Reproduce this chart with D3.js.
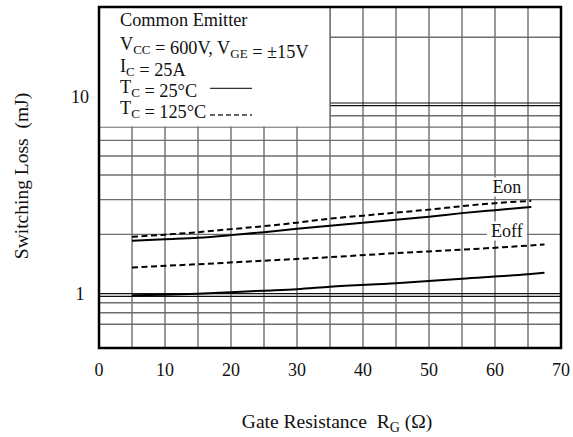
<!DOCTYPE html>
<html>
<head>
<meta charset="utf-8">
<script src="https://cdn.jsdelivr.net/npm/d3@7"></script>
<style>
  html, body { margin: 0; padding: 0; background: #fff; }
  svg { display: block; }
  text { font-family: "Liberation Serif", "Times New Roman", serif; fill: #111; white-space: pre; }
</style>
</head>
<body>
<svg id="chart" width="573" height="437"></svg>
<script>
// ---- data ----
const xTicks = [0, 10, 20, 30, 40, 50, 60, 70];
const yTickLabels = [1, 10];
const yGridValues = [0.7, 0.8, 0.9, 1, 2, 3, 4, 5, 6, 7, 8, 9, 20];
const doubledLines = [1, 9];

const rgEon = [5, 10, 15, 20, 25, 30, 35, 40, 45, 50, 55, 60, 65.5];
const eon25 = [1.858, 1.891, 1.924, 1.982, 2.052, 2.138, 2.214, 2.293, 2.375, 2.460, 2.563, 2.654, 2.753];
const eon125 = [1.943, 1.993, 2.052, 2.126, 2.201, 2.293, 2.403, 2.489, 2.578, 2.670, 2.781, 2.880, 2.959];

const rgEoff125 = [5, 15, 25, 35, 45, 55, 65, 67.5];
const eoff125 = [1.359, 1.411, 1.470, 1.532, 1.606, 1.672, 1.753, 1.777];

const rgEoff25 = [5, 10, 15, 20, 25, 30, 35, 45, 55, 65, 67.5];
const eoff25 = [0.983, 0.988, 1.000, 1.018, 1.036, 1.054, 1.085, 1.131, 1.192, 1.256, 1.278];

// ---- layout ----
const svg = d3.select("#chart");
const L = 99, R = 561, T = 7, B = 348;
const x = d3.scaleLinear().domain([0, 70]).range([L, R]);
const y = d3.scaleLog().domain([0.53, 28.5]).range([B, T]);

const gGrid = svg.append("g");
// vertical grid
gGrid.selectAll("line.v").data(d3.range(5, 70, 5)).join("line")
  .attr("x1", d => x(d)).attr("x2", d => x(d))
  .attr("y1", T).attr("y2", B)
  .attr("stroke", "#6e6e6e").attr("stroke-width", 1.4);
// horizontal grid
gGrid.selectAll("line.h").data(yGridValues).join("line")
  .attr("x1", L).attr("x2", R)
  .attr("y1", d => y(d)).attr("y2", d => y(d))
  .attr("stroke", d => doubledLines.includes(d) ? "#111" : "#6e6e6e")
  .attr("stroke-width", d => doubledLines.includes(d) ? 1.1 : 1.4);
// companion line of the doubled lines
gGrid.selectAll("line.d").data(doubledLines).join("line")
  .attr("x1", L).attr("x2", R)
  .attr("y1", (d, i) => y(d) + (i === 0 ? 2.7 : -2.6))
  .attr("y2", (d, i) => y(d) + (i === 0 ? 2.7 : -2.6))
  .attr("stroke", "#111").attr("stroke-width", 1.1);

// ---- curves ----
const line = d3.line().x(d => x(d[0])).y(d => y(d[1])).curve(d3.curveMonotoneX);
const series = [
  { rg: rgEon, v: eon125, dash: "6,3.5" },
  { rg: rgEon, v: eon25, dash: null },
  { rg: rgEoff125, v: eoff125, dash: "6,3.5" },
  { rg: rgEoff25, v: eoff25, dash: null }
];
svg.append("g").selectAll("path").data(series).join("path")
  .attr("d", s => line(s.rg.map((r, i) => [r, s.v[i]])))
  .attr("fill", "none").attr("stroke", "#000").attr("stroke-width", 2)
  .attr("stroke-dasharray", s => s.dash);

// ---- curve labels ----
function label(txt, cx, base, w) {
  svg.append("rect").attr("x", cx - w / 2).attr("y", base - 15).attr("width", w).attr("height", 19)
    .attr("fill", "#fff");
  svg.append("text").attr("x", cx).attr("y", base).attr("text-anchor", "middle")
    .attr("font-size", 18).text(txt);
}
label("Eon", x(61.8), 192.5, 38);
label("Eoff", x(61.8), 236.5, 40);

// ---- legend box ----
svg.append("rect").attr("x", L).attr("y", T).attr("width", x(35) - L).attr("height", y(7) - 0.7 - T)
  .attr("fill", "#fff");
svg.append("line").attr("x1", x(35)).attr("x2", x(35)).attr("y1", T).attr("y2", y(7))
  .attr("stroke", "#6e6e6e").attr("stroke-width", 1.4);

const fs = 18.3, sub = 13;
const lg = svg.append("g").attr("font-size", fs);
function richLine(parts, base) {
  const t = lg.append("text").attr("x", 120).attr("y", base);
  parts.forEach(p => {
    if (typeof p === "string") t.append("tspan").text(p);
    else {
      t.append("tspan").attr("font-size", sub).attr("dy", 4).text(p.s);
      t.append("tspan").attr("dy", -4).text("");
    }
  });
}
richLine(["Common Emitter"], 26);
richLine(["V", { s: "CC" }, " = 600V, V", { s: "GE" }, " = ±15V"], 49.5);
richLine(["I", { s: "C" }, " = 25A"], 71.5);
richLine(["T", { s: "C" }, " = 25°C"], 92.5);
richLine(["T", { s: "C" }, " = 125°C"], 113.5);
lg.append("line").attr("x1", 210).attr("x2", 252).attr("y1", 88.3).attr("y2", 88.3)
  .attr("stroke", "#333").attr("stroke-width", 1.3);
lg.append("line").attr("x1", 210).attr("x2", 252).attr("y1", 115).attr("y2", 115)
  .attr("stroke", "#333").attr("stroke-width", 1.3).attr("stroke-dasharray", "5,3");

// ---- frame ----
svg.append("rect").attr("x", L).attr("y", T).attr("width", R - L).attr("height", B - T)
  .attr("fill", "none").attr("stroke", "#000").attr("stroke-width", 2.5);

// ---- tick labels ----
svg.append("g").selectAll("text").data(xTicks).join("text")
  .attr("x", d => x(d)).attr("y", 376).attr("text-anchor", "middle")
  .attr("font-size", 18).text(d => d);
svg.append("g").selectAll("text").data(yTickLabels).join("text")
  .attr("x", 80).attr("y", d => y(d) + 6.5).attr("text-anchor", "middle")
  .attr("font-size", 18).text(d => d);

// ---- axis titles ----
const xt = svg.append("text").attr("x", 337).attr("y", 428).attr("text-anchor", "middle")
  .attr("font-size", 19.5);
xt.append("tspan").text("Gate Resistance\u00A0\u00A0R");
xt.append("tspan").attr("font-size", 14).attr("dy", 4).text("G");
xt.append("tspan").attr("dy", -4).text(" (Ω)");

svg.append("text").attr("transform", "translate(28,176) rotate(-90)")
  .attr("text-anchor", "middle").attr("font-size", 19.5).text("Switching Loss\u00A0\u00A0(mJ)");
</script>
</body>
</html>
